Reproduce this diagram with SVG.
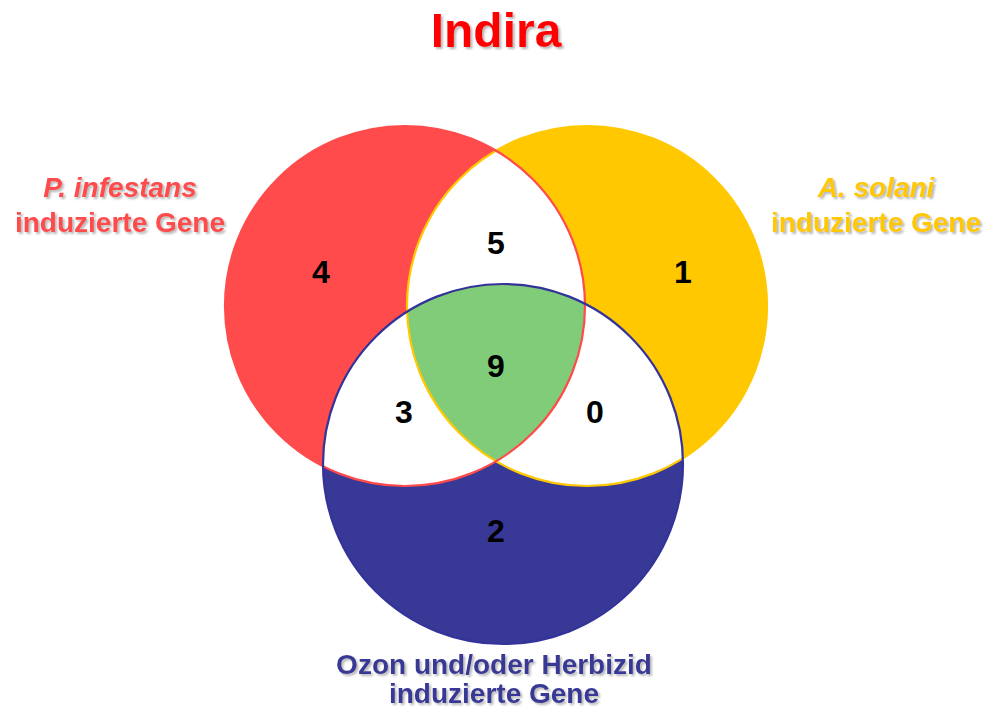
<svg xmlns="http://www.w3.org/2000/svg" width="986" height="711" viewBox="0 0 986 711">
<style>
.t{font-family:"Liberation Sans",Arial,sans-serif;font-weight:bold;text-anchor:middle;}
.lab{font-size:28px;filter:url(#sh);}
.num{font-size:32px;fill:#000;}
.r{fill:#FF4B4B;}
.y{fill:#FFC800;}
.b{fill:#383896;}
</style>
<defs>
<filter id="sh" x="-10%" y="-30%" width="120%" height="160%">
<feDropShadow dx="2" dy="2" stdDeviation="0.8" flood-color="#9a9a9a" flood-opacity="0.7"/>
</filter>
<clipPath id="cR"><circle cx="405" cy="306" r="180"/></clipPath>
<clipPath id="cY"><circle cx="587" cy="306" r="180"/></clipPath>
<clipPath id="cB"><circle cx="503" cy="464" r="180"/></clipPath>
</defs>
<rect width="986" height="711" fill="#fff"/>
<text class="t" x="496" y="47" font-size="48" fill="#FF0000" filter="url(#sh)">Indira</text>
<g id="set-red"><circle cx="405" cy="306" r="180" class="r"/></g>
<g id="set-yellow"><circle cx="587" cy="306" r="180" class="y"/></g>
<g id="set-blue"><circle cx="503" cy="464" r="180" class="b"/></g>
<g id="intersections">
<circle cx="587" cy="306" r="180" fill="#fff" clip-path="url(#cR)"/>
<circle cx="503" cy="464" r="180" fill="#fff" clip-path="url(#cR)"/>
<circle cx="503" cy="464" r="180" fill="#fff" clip-path="url(#cY)"/>
<g clip-path="url(#cR)"><circle cx="503" cy="464" r="180" fill="#80CC78" clip-path="url(#cY)"/></g>
</g>
<g id="outlines" fill="none" stroke-width="2.2">
<circle cx="587" cy="306" r="180" stroke="#FFC800"/>
<circle cx="405" cy="306" r="180" stroke="#FF4B4B"/>
<circle cx="503" cy="464" r="180" stroke="#333399"/>
</g>
<g id="numbers" class="t">
<text class="t num" x="321" y="283">4</text>
<text class="t num" x="496" y="254">5</text>
<text class="t num" x="683" y="283">1</text>
<text class="t num" x="496" y="377">9</text>
<text class="t num" x="404" y="423">3</text>
<text class="t num" x="595" y="423">0</text>
<text class="t num" x="496" y="542">2</text>
</g>
<g id="label-red">
<text class="t lab r" x="120" y="197" font-style="italic">P. infestans</text>
<text class="t lab r" x="120" y="232">induzierte Gene</text>
</g>
<g id="label-yellow">
<text class="t lab y" x="876" y="197" font-style="italic">A. solani</text>
<text class="t lab y" x="876" y="232">induzierte Gene</text>
</g>
<g id="label-blue">
<text class="t lab b" x="494" y="674">Ozon und/oder Herbizid</text>
<text class="t lab b" x="494" y="703">induzierte Gene</text>
</g>
</svg>
